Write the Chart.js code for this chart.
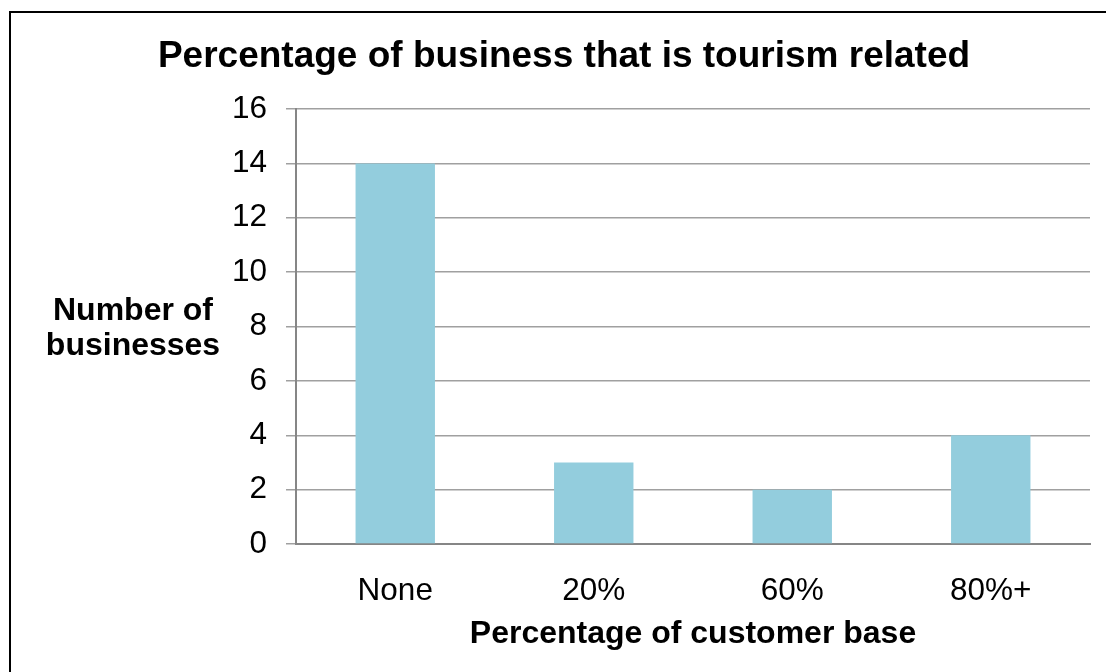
<!DOCTYPE html>
<html>
<head>
<meta charset="utf-8">
<script src="https://cdn.jsdelivr.net/npm/chart.js@4"></script>
<style>
	body { margin: 0; background: #ffffff; overflow: hidden; }
	#frame { position: absolute; left: 9px; top: 11px; width: 1200px; height: 800px;
		border-left: 2px solid #000000; border-top: 2px solid #000000; }
	#wrap { position: absolute; left: 0; top: 0; width: 1106px; height: 672px; }
</style>
</head>
<body>
<div id="frame"></div>
<div id="wrap"><canvas id="bars"></canvas></div>
<script>
var categories = ["None", "20%", "60%", "80%+"];
var businesses = [14, 3, 2, 4];
var chartTitle = "Percentage of business that is tourism related";
var yTitleLines = ["Number of", "businesses"];

var fontFamily = "'Liberation Sans', Arial, sans-serif";

// title and horizontal y axis title drawn by hand, like the Excel original
var textPlugin =
{
	id: "excelTexts",
	afterDraw: function(chart)
	{
		let ctx = chart.ctx;
		let area = chart.chartArea;
		ctx.save();
		ctx.fillStyle = "#000000";
		ctx.textAlign = "center";
		ctx.textBaseline = "alphabetic";

		ctx.font = "bold 37px " + fontFamily;
		ctx.fillText(chartTitle, area.left + 268, area.top - 42);

		let cx = area.left - 163;
		let cy = (area.top + area.bottom) / 2;
		ctx.font = "bold 32px " + fontFamily;
		for(let i = 0; i < yTitleLines.length; i++)
		{
			ctx.fillText(yTitleLines[i], cx, cy - 7 + i * 35);
		}
		ctx.restore();
	}
};

var bars = new Chart("bars",
{
	type: "bar",
	data:
	{
		labels: categories,
		datasets:
		[{
			label: "Number of businesses",
			data: businesses,
			backgroundColor: "#93CDDD",
			borderWidth: 0,
			barPercentage: 0.4,
			categoryPercentage: 1.0
		}]
	},
	options:
	{
		responsive: true,
		maintainAspectRatio: false,
		animation: false,
		layout: { padding: { left: 0, right: 16, top: 109, bottom: 0 } },
		plugins:
		{
			legend: { display: false },
			tooltip: { enabled: false },
			title: { display: false }
		},
		scales:
		{
			x:
			{
				grid: { display: false },
				border: { display: true, color: "#868686", width: 2 },
				ticks: { color: "#000000", font: { family: fontFamily, size: 31.5 }, padding: 20 },
				title:
				{
					display: true,
					text: "Percentage of customer base",
					color: "#000000",
					font: { family: fontFamily, size: 32, weight: "bold" },
					padding: { top: 0, bottom: 19 }
				},
				afterFit: function(scale) { scale.height = 128; }
			},
			y:
			{
				min: 0,
				max: 16,
				grid: { color: "#A0A0A0", lineWidth: 1.5, tickLength: 10 },
				border: { display: true, color: "#868686", width: 2 },
				ticks: { stepSize: 2, color: "#000000", font: { family: fontFamily, size: 31.5 }, padding: 19 },
				afterFit: function(scale) { scale.width = 296; }
			}
		}
	},
	plugins: [textPlugin]
});
</script>
</body>
</html>
